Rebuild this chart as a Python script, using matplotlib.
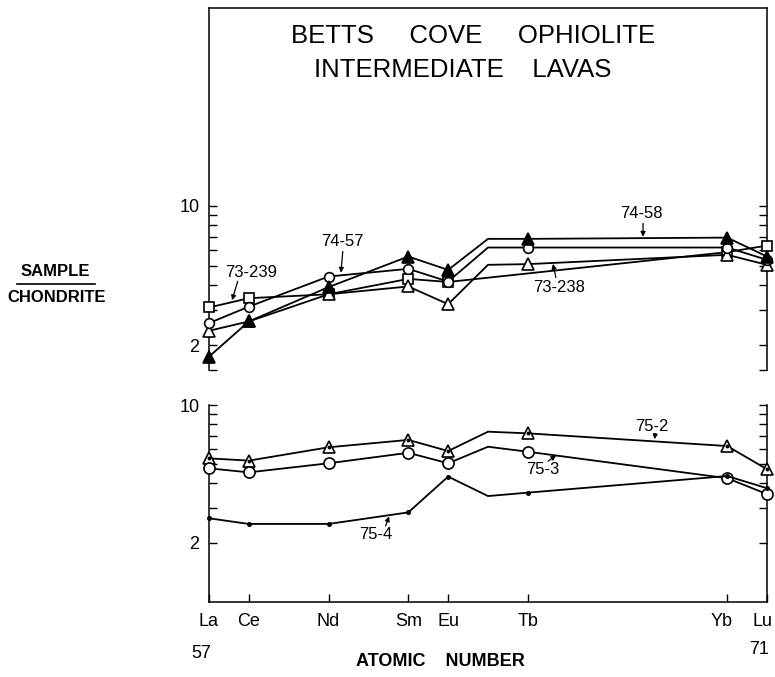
import matplotlib
matplotlib.use("Agg")
import matplotlib.pyplot as plt
from matplotlib.transforms import ScaledTranslation

plt.rcParams['font.family'] = ['Liberation Sans', 'DejaVu Sans']

# ---------------- data ----------------
elements = ["La", "Ce", "Nd", "Sm", "Eu", "Gd", "Tb", "Yb", "Lu"]
atomic = [57, 58, 60, 62, 63, 64, 65, 70, 71]
tick_labels = ["La", "Ce", "Nd", "Sm", "Eu", "Tb", "Yb", "Lu"]
tick_atomic = [57, 58, 60, 62, 63, 65, 70, 71]
no_marker = ["Gd"]          # line vertex only, no symbol

# upper panel (sample / chondrite)
s73_239 = [3.09, 3.44, 3.60, 4.30, 4.15, None, None, 5.86, 6.32]
s74_57 = [2.58, 3.12, 4.42, 4.83, 4.17, 6.18, 6.18, 6.18, 5.36]
s73_238 = [2.36, 2.63, 3.60, 3.94, 3.21, 5.06, 5.10, 5.68, 5.06]
s74_58 = [1.75, 2.63, 3.91, 5.57, 4.77, 6.83, 6.83, 6.93, 5.57]

# lower panel
s75_2 = [5.36, 5.22, 6.10, 6.65, 5.84, 7.32, 7.18, 6.19, 4.72]
s75_3 = [4.77, 4.55, 5.06, 5.72, 5.06, 6.14, 5.79, 4.25, 3.53]
s75_4 = [2.66, 2.49, 2.49, 2.85, 4.33, 3.45, 3.59, 4.36, 3.78]

W, H = 775, 677
fig = plt.figure(figsize=(W / 100, H / 100), dpi=100)


def frac(x0, y0, x1, y1):
    return [x0 / W, 1 - y1 / H, (x1 - x0) / W, (y1 - y0) / H]


ax1 = fig.add_axes(frac(209, 8, 767, 370))
ax2 = fig.add_axes(frac(209, 405, 767, 602))

LW = 1.3
COL = "black"


def series(ax, vals, marker, mfc, ms, z=3):
    xs = [a for a, v in zip(atomic, vals) if v is not None]
    ys = [v for v in vals if v is not None]
    ax.plot(xs, ys, color=COL, lw=LW, zorder=z)
    mx = [a for a, e, v in zip(atomic, elements, vals) if v is not None and e not in no_marker]
    my = [v for e, v in zip(elements, vals) if v is not None and e not in no_marker]
    if marker:
        ax.plot(mx, my, ls="none", marker=marker, ms=ms, mfc=mfc, mec=COL,
                mew=1.2, zorder=z + 1, clip_on=False)
    return mx, my


# upper panel
series(ax1, s73_239, "s", "white", 6.5, 3)
series(ax1, s73_238, "^", "white", 8.5, 4)
series(ax1, s74_57, "o", "white", 7, 5)
series(ax1, s74_58, "^", "black", 8.5, 6)

# lower panel
mx, my = series(ax2, s75_2, "^", "white", 8.5, 3)
ax2.plot(mx, my, ls="none", marker="o", ms=1.8, color=COL, zorder=5, clip_on=False)
series(ax2, s75_3, "o", "white", 8, 4)
series(ax2, s75_4, "o", COL, 2.4, 5)

for ax in (ax1, ax2):
    ax.set_yscale("log")
    ax.set_xlim(57, 71)
    ax.minorticks_off()
    ax.tick_params(axis="y", which="both", direction="in", length=5.5, width=1.0,
                   left=True, right=True, labelsize=13, pad=7)
    for s in ax.spines.values():
        s.set_linewidth(1.1)

ax1.set_ylim(1.5, 98.5)
ax1.set_yticks([1.5, 2, 3, 4, 5, 6, 7, 8, 9, 10])
ax1.set_yticklabels(["", "2", "", "", "", "", "", "", "", "10"])
ax1.spines["bottom"].set_visible(False)
ax1.set_xticks([])

ax2.set_ylim(1, 10)
ax2.set_yticks([2, 3, 4, 5, 6, 7, 8, 9, 10])
ax2.set_yticklabels(["2", "", "", "", "", "", "", "", "10"])
ax2.spines["top"].set_visible(False)
ax2.set_xticks(tick_atomic)
ax2.set_xticklabels(tick_labels)
ax2.tick_params(axis="x", direction="in", length=6, width=1.0, labelsize=13, pad=8)
xlabs = ax2.get_xticklabels()
for lab, dx in ((xlabs[-2], -6), (xlabs[-1], -5)):
    lab.set_transform(lab.get_transform() + ScaledTranslation(dx / 100, 0, fig.dpi_scale_trans))

# sample labels with arrows
arrow = dict(arrowstyle="-|>", lw=0.9, color=COL, mutation_scale=7,
             shrinkA=1, shrinkB=0)
lab_kw = dict(fontsize=12, ha="center", va="center")

ax1.text(58.05, 4.61, "73-239", **lab_kw)
ax1.annotate("", xy=(57.58, 3.36), xytext=(57.73, 4.25), arrowprops=arrow)
ax1.text(60.34, 6.60, "74-57", **lab_kw)
ax1.annotate("", xy=(60.31, 4.62), xytext=(60.36, 6.0), arrowprops=arrow)
ax1.text(67.84, 9.12, "74-58", **lab_kw)
ax1.annotate("", xy=(67.89, 7.0), xytext=(67.89, 8.3), arrowprops=arrow)
ax1.text(65.78, 3.90, "73-238", **lab_kw)
ax1.annotate("", xy=(65.63, 5.12), xytext=(65.71, 4.30), arrowprops=arrow)

ax2.text(68.11, 7.82, "75-2", **lab_kw)
ax2.annotate("", xy=(68.18, 6.70), xytext=(68.2, 7.29), arrowprops=arrow)
ax2.text(65.38, 4.68, "75-3", **lab_kw)
ax2.annotate("", xy=(65.71, 5.55), xytext=(65.48, 5.14), arrowprops=arrow)
ax2.text(61.19, 2.19, "75-4", **lab_kw)
ax2.annotate("", xy=(61.52, 2.72), xytext=(61.42, 2.40), arrowprops=arrow)

# title
fig.text(473 / W, 1 - 36 / H, "BETTS     COVE     OPHIOLITE", fontsize=18.5,
         ha="center", va="center")
fig.text(463 / W, 1 - 70 / H, "INTERMEDIATE    LAVAS", fontsize=18.5,
         ha="center", va="center")

# y label
fig.text(55 / W, 1 - 272 / H, "SAMPLE", fontsize=12, fontweight="bold",
         ha="center", va="center")
fig.add_artist(plt.Line2D([17 / W, 95 / W], [1 - 284 / H, 1 - 284 / H],
                          color=COL, lw=1.2))
fig.text(57 / W, 1 - 297 / H, "CHONDRITE", fontsize=12, fontweight="bold",
         ha="center", va="center")

# x label
fig.text(201 / W, 1 - 654 / H, "57", fontsize=13, ha="center", va="center")
fig.text(759 / W, 1 - 650 / H, "71", fontsize=13, ha="center", va="center")
fig.text(440 / W, 1 - 661 / H, "ATOMIC    NUMBER", fontsize=13, fontweight="bold",
         ha="center", va="center")

fig.savefig("out.png", dpi=100)
